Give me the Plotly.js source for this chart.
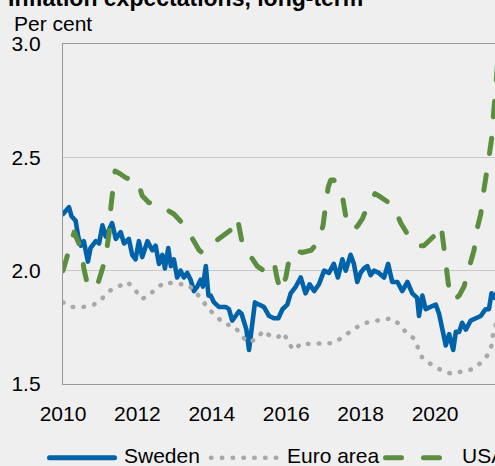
<!DOCTYPE html>
<html><head><meta charset="utf-8">
<script src="https://cdn.plot.ly/plotly-3.0.1.min.js"></script>
<style>
html,body{margin:0;padding:0;background:#efefef;overflow:hidden;}
#chart{width:495px;height:466px;}
.scatterlayer .js-line{stroke-linecap:round;stroke-linejoin:round;}
.shapelayer path{stroke-linecap:round;}
</style></head><body><div id="chart"></div>
<script>
const titleText = "Inflation expectations, long-term";
const unitText = "Per cent";
const seriesNames = ["Sweden", "Euro area", "USA"];
const xTicks = [2010, 2012, 2014, 2016, 2018, 2020, 2022];
const yTicks = [1.5, 2.0, 2.5, 3.0];

const swedenX = [2010.00,2010.05,2010.16,2010.23,2010.30,2010.34,2010.41,2010.48,2010.56,2010.67,2010.74,2010.88,2010.97,2011.06,2011.15,2011.32,2011.42,2011.55,2011.64,2011.77,2011.86,2011.95,2012.04,2012.13,2012.27,2012.40,2012.49,2012.58,2012.67,2012.74,2012.83,2012.90,2012.98,2013.07,2013.16,2013.25,2013.34,2013.43,2013.52,2013.61,2013.70,2013.76,2013.84,2013.91,2013.97,2014.06,2014.19,2014.37,2014.46,2014.55,2014.64,2014.73,2014.80,2014.87,2014.93,2015.00,2015.09,2015.16,2015.27,2015.40,2015.54,2015.67,2015.79,2015.90,2016.03,2016.12,2016.26,2016.39,2016.52,2016.63,2016.75,2016.88,2017.02,2017.15,2017.28,2017.39,2017.51,2017.60,2017.73,2017.82,2017.91,2018.00,2018.09,2018.18,2018.27,2018.36,2018.49,2018.63,2018.74,2018.85,2018.99,2019.12,2019.26,2019.39,2019.52,2019.57,2019.66,2019.75,2019.88,2020.02,2020.11,2020.20,2020.29,2020.38,2020.49,2020.56,2020.65,2020.73,2020.83,2020.96,2021.09,2021.23,2021.36,2021.45,2021.52,2021.60,2021.70];
const swedenY = [2.25,2.26,2.28,2.24,2.23,2.22,2.15,2.11,2.13,2.04,2.10,2.13,2.12,2.20,2.15,2.21,2.14,2.17,2.12,2.14,2.07,2.05,2.13,2.06,2.13,2.09,2.11,2.03,2.07,2.01,2.10,2.02,2.05,1.97,2.00,1.97,1.99,1.96,1.91,1.93,1.96,1.93,2.02,1.89,1.89,1.86,1.84,1.84,1.83,1.78,1.80,1.82,1.81,1.77,1.74,1.65,1.75,1.86,1.85,1.84,1.80,1.79,1.79,1.83,1.85,1.90,1.93,1.97,1.90,1.94,1.91,1.94,2.00,1.99,2.03,1.97,2.05,2.00,2.07,2.03,1.95,1.99,2.01,2.02,1.98,2.00,1.99,1.97,2.03,1.95,1.95,1.91,1.95,1.90,1.88,1.80,1.89,1.83,1.84,1.85,1.81,1.75,1.67,1.72,1.65,1.73,1.73,1.77,1.74,1.78,1.79,1.80,1.83,1.83,1.90,1.88,1.92];

const euroX = [2010.00,2010.25,2010.55,2010.83,2011.04,2011.24,2011.49,2011.73,2011.94,2012.12,2012.31,2012.52,2012.76,2013.05,2013.34,2013.55,2013.74,2013.92,2014.11,2014.34,2014.60,2014.78,2014.95,2015.21,2015.38,2015.55,2015.76,2015.94,2016.06,2016.21,2016.41,2016.70,2016.97,2017.26,2017.51,2017.75,2017.99,2018.24,2018.54,2018.84,2019.03,2019.21,2019.44,2019.55,2019.66,2019.91,2020.18,2020.45,2020.72,2021.00,2021.24,2021.43,2021.52,2021.56,2021.70];
const euroY = [1.86,1.84,1.84,1.85,1.875,1.91,1.93,1.95,1.915,1.875,1.89,1.925,1.95,1.94,1.94,1.91,1.87,1.83,1.80,1.765,1.755,1.72,1.685,1.697,1.735,1.715,1.705,1.725,1.68,1.65,1.68,1.675,1.68,1.68,1.705,1.735,1.76,1.775,1.78,1.79,1.765,1.73,1.70,1.66,1.615,1.585,1.56,1.545,1.555,1.565,1.595,1.63,1.67,1.72,1.80];

const usaX = [2010.00,2010.12,2010.30,2010.50,2010.56,2010.67,2010.75,2010.95,2011.10,2011.19,2011.26,2011.28,2011.34,2011.40,2011.51,2011.69,2011.85,2012.00,2012.13,2012.31,2012.58,2012.98,2013.15,2013.30,2013.52,2013.66,2013.74,2013.92,2014.10,2014.33,2014.51,2014.63,2014.69,2014.82,2015.05,2015.22,2015.40,2015.67,2015.75,2015.85,2015.99,2016.09,2016.21,2016.43,2016.67,2016.88,2016.99,2017.08,2017.13,2017.20,2017.28,2017.51,2017.60,2017.74,2017.82,2017.93,2018.05,2018.23,2018.39,2018.49,2018.85,2018.98,2019.08,2019.30,2019.52,2019.70,2020.02,2020.11,2020.18,2020.24,2020.29,2020.36,2020.43,2020.51,2020.65,2020.78,2020.91,2021.05,2021.11,2021.23,2021.29,2021.38,2021.45,2021.52,2021.59,2021.70];
const usaY = [2.00,2.07,2.17,2.09,2.01,1.93,1.92,1.95,2.03,2.11,2.19,2.27,2.35,2.44,2.43,2.41,2.40,2.40,2.33,2.30,2.29,2.25,2.22,2.19,2.13,2.09,2.08,2.10,2.13,2.16,2.18,2.23,2.23,2.12,2.06,2.02,2.00,2.04,1.97,1.91,1.97,2.06,2.09,2.08,2.09,2.13,2.20,2.30,2.37,2.40,2.40,2.33,2.24,2.19,2.18,2.20,2.23,2.30,2.34,2.33,2.29,2.25,2.21,2.15,2.11,2.11,2.16,2.20,2.18,2.10,2.01,1.94,1.88,1.87,1.89,1.93,2.01,2.09,2.17,2.25,2.33,2.41,2.50,2.58,2.75,2.95];

const colors = {sweden:"#0062a8", euro:"#a8a8a8", usa:"#5b8f3f"};
const euroDash = "0.5px,10.3px";
const usaDash = "15.5px,21.5px";

const FONT = "Liberation Sans, Arial, Helvetica, sans-serif";
const W = 495, H = 466, L = 63, T = 44, B = 82;
const plotW = W - L, plotH = H - T - B;
const pxPerYear = 37.2;
const px = x => (x - L) / plotW;
const py = y => (H - B - y) / plotH;

const traces = [
  {x: swedenX, y: swedenY, name: seriesNames[0], mode: "lines", line: {color: colors.sweden, width: 4.6}},
  {x: euroX, y: euroY, name: seriesNames[1], mode: "lines", line: {color: colors.euro, width: 4.5, dash: euroDash}},
  {x: usaX, y: usaY, name: seriesNames[2], mode: "lines", line: {color: colors.usa, width: 5, dash: usaDash}}
];

const legY = py(457.7);
const shapes = [
  {type:"line", xref:"paper", yref:"paper", x0:px(49.5), x1:px(114.5), y0:legY, y1:legY, line:{color:colors.sweden, width:5}},
  {type:"line", xref:"paper", yref:"paper", x0:px(211), x1:px(276.5), y0:legY, y1:legY, line:{color:colors.euro, width:4.5, dash:"0.5px,10.3px"}},
  {type:"line", xref:"paper", yref:"paper", x0:px(385.5), x1:px(439.5), y0:legY, y1:legY, line:{color:colors.usa, width:5, dash:"16px,22px"}}
];

const annotations = [
  {text:"<b>"+titleText+"</b>", xref:"paper", yref:"paper", x:px(6), y:py(-2), xanchor:"left", yanchor:"middle", showarrow:false, font:{family:FONT, size:23, color:"#000"}},
  {text:unitText, xref:"paper", yref:"paper", x:px(12), y:py(23.5), xanchor:"left", yanchor:"middle", showarrow:false, font:{family:FONT, size:21, color:"#000"}},
  {text:seriesNames[0], xref:"paper", yref:"paper", x:px(122), y:py(456), xanchor:"left", yanchor:"middle", showarrow:false, font:{family:FONT, size:21, color:"#000"}},
  {text:seriesNames[1], xref:"paper", yref:"paper", x:px(285), y:py(456), xanchor:"left", yanchor:"middle", showarrow:false, font:{family:FONT, size:21, color:"#000"}},
  {text:seriesNames[2], xref:"paper", yref:"paper", x:px(460), y:py(456), xanchor:"left", yanchor:"middle", showarrow:false, font:{family:FONT, size:21, color:"#000"}}
];

const layout = {
  width: W, height: H,
  margin: {l: L, r: 0, t: T, b: B, pad: 0},
  paper_bgcolor: "#efefef", plot_bgcolor: "#efefef",
  showlegend: false,
  font: {family: FONT, size: 21, color: "#000"},
  xaxis: {range: [2010, 2010 + plotW / pxPerYear], tickvals: xTicks, tickformat: "d", showgrid: false, zeroline: false,
          showline: true, mirror: true, linecolor: "#999", linewidth: 1.2, ticks: "", ticklabelstandoff: 11,
          tickfont: {family: FONT, size: 21, color: "#000"}, fixedrange: true},
  yaxis: {range: [1.5, 3.0], tickvals: yTicks, tickformat: ".1f", showgrid: true, gridcolor: "#c8c8c8", gridwidth: 1.5,
          zeroline: false, showline: true, linecolor: "#999", linewidth: 1.2, ticks: "", ticklabelstandoff: 17,
          tickfont: {family: FONT, size: 21, color: "#000"}, fixedrange: true},
  shapes: shapes,
  annotations: annotations
};

Plotly.newPlot("chart", traces, layout, {staticPlot: true, displayModeBar: false});
</script></body></html>
